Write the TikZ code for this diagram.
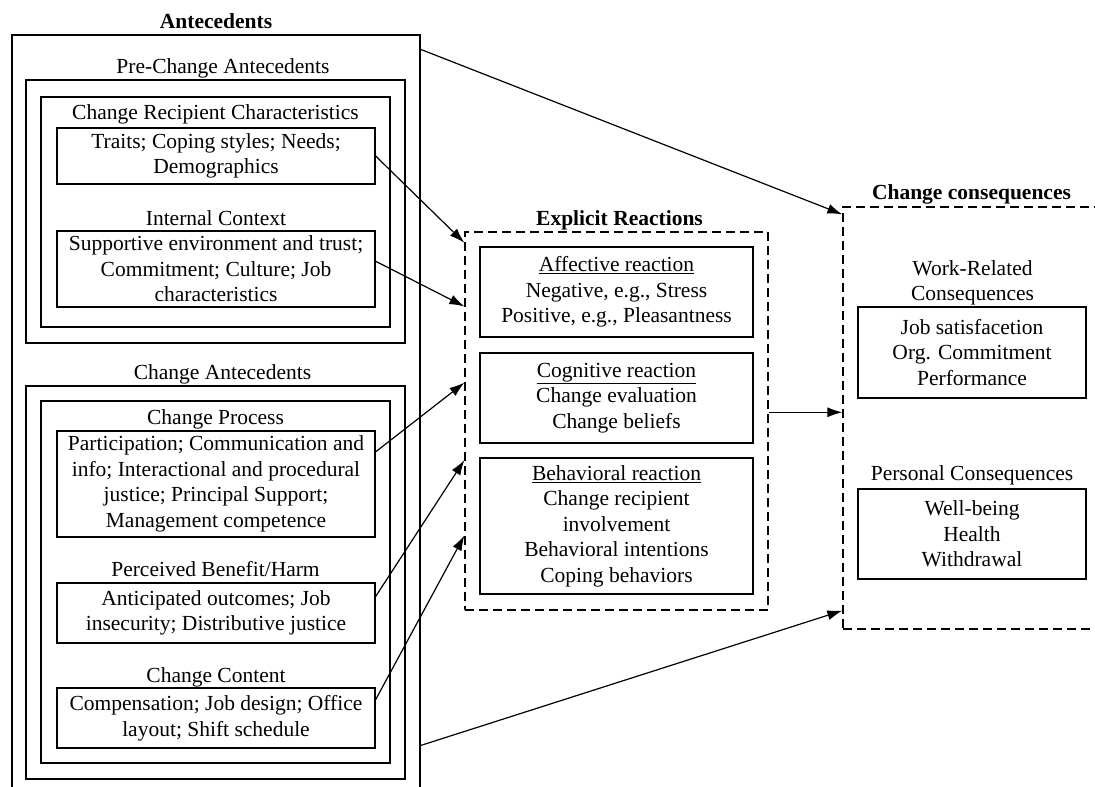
\documentclass[tikz,border=0pt]{standalone}
\usepackage{fontspec}
\setmainfont{Liberation Serif}
\usetikzlibrary{arrows.meta,calc}
\begin{document}
\begin{tikzpicture}[x=1pt,y=-1pt,
  every node/.style={font=\fontsize{21.5}{25.5}\selectfont},
  bx/.style 2 args={draw, line width=1.3pt, inner sep=0pt, align=center, minimum width=#1, minimum height=#2},
  dbx/.style 2 args={draw, line width=1.3pt, dash pattern=on 9pt off 5pt, inner sep=0pt, minimum width=#1, minimum height=#2},
  lbl/.style={anchor=base, inner sep=0pt, align=center},
  ttl/.style={lbl, font=\fontsize{21.5}{25.5}\selectfont\bfseries},
  arr/.style={line width=1.2pt, -{Latex[length=15pt,width=10pt]}}
]
\useasboundingbox (0,0) rectangle (1095,787);
\fill[white] (0,0) rectangle (1095,787);

% Antecedents
\node[ttl] (tAnte) at (216,28) {Antecedents};
\node[bx={408pt}{765pt}] (ante) at (216,417.5) {};
\node[lbl] (tPre) at (223,73) {Pre-Change Antecedents};
\node[bx={379pt}{263pt}] (pre) at (215.5,211.5) {};
\node[lbl] (tCrc) at (215.5,119) {Change Recipient Characteristics};
\node[bx={349pt}{230pt}] (crc) at (215.5,212) {};
\node[bx={318pt}{56pt}] (traits) at (216,156) {Traits; Coping styles; Needs;\\Demographics};
\node[lbl] (tInt) at (216,225) {Internal Context};
\node[bx={318pt}{76pt}] (sup) at (216,269) {Supportive environment and trust;\\Commitment; Culture; Job\\characteristics};

\node[lbl] (tCha) at (222.5,379) {Change Antecedents};
\node[bx={379pt}{393pt}] (chant) at (215.5,582.5) {};
\node[bx={349pt}{362pt}] (inner) at (215.5,582) {};
\node[lbl] (tProc) at (215.5,424) {Change Process};
\node[bx={318pt}{106pt}] (proc) at (216,484) {Participation; Communication and\\info; Interactional and procedural\\justice; Principal Support;\\Management competence};
\node[lbl] (tBen) at (215.5,576) {Perceived Benefit/Harm};
\node[bx={318pt}{60pt}] (ben) at (216,613) {Anticipated outcomes; Job\\insecurity; Distributive justice};
\node[lbl] (tCont) at (216,682) {Change Content};
\node[bx={318pt}{60pt}] (cont) at (216,718) {Compensation; Job design; Office\\layout; Shift schedule};

% Explicit reactions
\node[ttl] (tExpl) at (619.5,225) {Explicit Reactions};
\node[dbx={303pt}{378pt}] (expl) at (616.5,421) {};
\node[bx={273pt}{90pt}] (aff) at (616.5,292) {\underline{Affective reaction}\\Negative, e.g., Stress\\Positive, e.g., Pleasantness};
\node[bx={273pt}{90pt}] (cog) at (616.5,398) {\underline{Cognitive reaction}\\Change evaluation\\Change beliefs};
\node[bx={273pt}{136pt}] (beh) at (616.5,526) {\underline{Behavioral reaction}\\Change recipient\\involvement\\Behavioral intentions\\Coping behaviors};

% Change consequences
\node[ttl] (tCons) at (971.5,199) {Change consequences};
\node[dbx={262pt}{422pt}] (cons) at (974,418) {};
\node[lbl] (tWork) at (972.5,275) {Work-Related};
\node[lbl] (tWork2) at (972.5,300) {Consequences};
\node[bx={228pt}{91pt}] (work) at (972,352.5) {Job satisfacetion\\Org. Commitment\\Performance};
\node[lbl] (tPers) at (972,480) {Personal Consequences};
\node[bx={228pt}{90pt}] (pers) at (972,534) {Well-being\\Health\\Withdrawal};

% Connectors
\draw[arr] ($(ante.north east)!0.0196!(ante.south east)$) -- ($(cons.north west)!0.019!(cons.south west)$);
\draw[arr] (traits.east) -- ($(expl.north west)!0.03!(expl.south west)$);
\draw[arr] ($(sup.north east)!0.4!(sup.south east)$) -- ($(expl.north west)!0.198!(expl.south west)$);
\draw[arr] ($(proc.north east)!0.2!(proc.south east)$) -- ($(expl.north west)!0.399!(expl.south west)$);
\draw[arr] ($(ben.north east)!0.23!(ben.south east)$) -- ($(expl.north west)!0.603!(expl.south west)$);
\draw[arr] ($(cont.north east)!0.2!(cont.south east)$) -- ($(expl.north west)!0.802!(expl.south west)$);
\draw[arr] ($(ante.north east)!0.928!(ante.south east)$) -- ($(cons.north west)!0.955!(cons.south west)$);
\coordinate (e8) at ($(expl.north east)!0.477!(expl.south east)$);
\draw[arr] (e8) -- (e8 -| cons.west);
\end{tikzpicture}
\end{document}
